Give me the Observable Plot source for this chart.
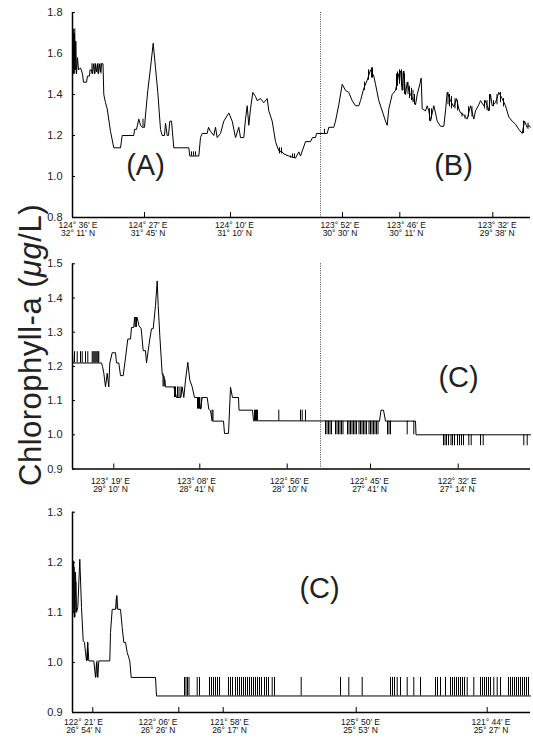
<!DOCTYPE html>
<html><head><meta charset="utf-8">
<script src="https://cdn.jsdelivr.net/npm/d3@7"></script>
<script src="https://cdn.jsdelivr.net/npm/@observablehq/plot@0.6"></script>
<style>
body{margin:0;background:#fff;}
#root{position:relative;width:533px;height:742px;overflow:hidden;background:#fff;}
#root svg{position:absolute;left:0;}
</style></head><body><div id="root"></div>
<script>
// ---------- Panel A/B (top) ----------
const lineAB = [[0,1.48],[0.7,1.72],[1.3,1.50],[2,1.70],[2.7,1.52],[3.3,1.66],[4,1.50],[5,1.58],[6,1.52],[8,1.53],[10,1.50],[11,1.46],[14,1.46],[15,1.49],[17,1.49],[17.5,1.52],[19,1.52],[20,1.50],[21,1.55],[22,1.50],[23,1.55],[24,1.51],[25,1.55],[26,1.50],[27,1.55],[28,1.51],[29,1.55],[30.5,1.55],[31.3,1.40],[33,1.36],[34.7,1.33],[38,1.22],[41.3,1.14],[48,1.14],[49.7,1.20],[61.3,1.20],[62,1.23],[64,1.23],[66.3,1.28],[68,1.25],[69.7,1.24],[72,1.24],[73,1.30],[75.3,1.42],[78,1.53],[80.7,1.65],[83,1.53],[85.3,1.41],[88,1.23],[89.7,1.20],[92,1.20],[93,1.26],[94.7,1.20],[96,1.20],[97.3,1.27],[99,1.27],[101.3,1.14],[116.3,1.14],[117.3,1.10],[126.3,1.10],[128,1.19],[129.7,1.21],[134.7,1.21],[136,1.24],[138,1.22],[141.3,1.20],[143,1.24],[144.7,1.19],[148,1.21],[151.3,1.27],[156.3,1.31],[159.7,1.27],[163,1.19],[166.3,1.24],[168,1.19],[171.3,1.19],[173,1.28],[174.7,1.345],[176.3,1.25],[178,1.33],[180.3,1.41],[183,1.39],[184.7,1.37],[188,1.38],[191.3,1.36],[194.7,1.38],[196.3,1.32],[199.7,1.27],[203,1.17],[206.3,1.125],[209.7,1.12],[211.3,1.11],[216.3,1.10],[223,1.09],[226.3,1.12],[228,1.10],[233,1.17],[238,1.17],[240,1.19],[243,1.19],[244,1.21],[254.7,1.21],[256.3,1.24],[261.3,1.24],[263,1.27],[266.3,1.35],[269.7,1.45],[273,1.42],[276.3,1.41],[279.7,1.37],[283,1.345],[286.3,1.345],[288,1.37],[291.3,1.43],[294.7,1.47],[298,1.52],[301.3,1.49],[303,1.45],[306.3,1.37],[309.7,1.32],[313,1.27],[314.7,1.25],[316.3,1.33],[319.7,1.40],[323,1.42],[326.3,1.50],[328,1.515],[329.7,1.42],[331.3,1.515],[333,1.40],[334.7,1.46],[336.3,1.42],[338,1.40],[341.3,1.37],[343,1.35],[344.7,1.40],[347.3,1.45],[348.7,1.48],[349.7,1.33],[353,1.32],[354.7,1.345],[356.3,1.32],[358,1.27],[361.3,1.345],[363,1.31],[364.7,1.27],[368,1.245],[371.3,1.245],[373,1.32],[374.7,1.41],[378,1.37],[381.3,1.34],[384,1.38],[386.3,1.33],[388,1.31],[391.3,1.30],[394.7,1.28],[398,1.345],[401.3,1.28],[403,1.32],[406.3,1.35],[408,1.37],[411.3,1.345],[413,1.37],[416.3,1.32],[418,1.40],[419.7,1.345],[423,1.36],[426.3,1.41],[429.7,1.38],[433,1.345],[436.3,1.29],[439.7,1.27],[443,1.255],[446.3,1.23],[449.7,1.21],[452,1.27],[454.7,1.24],[456.3,1.25],[458,1.24]];
const spikesAB = [[1,1.50,1.70],[1.7,1.52,1.66],[2.3,1.50,1.72],[19.5,1.50,1.55],[22.5,1.50,1.55],[25.5,1.50,1.55],[28.5,1.50,1.55],[70.5,1.24,1.28],[119,1.10,1.12],[121,1.10,1.12],[123,1.10,1.12],[207,1.11,1.14],[209,1.11,1.14],[218,1.09,1.10],[220,1.09,1.11],[222,1.09,1.11],[252,1.21,1.23],[292,1.42,1.46],[296,1.47,1.52],[299,1.48,1.53],[300,1.48,1.53],[324,1.42,1.50],[325,1.44,1.51],[327,1.45,1.52],[329,1.44,1.52],[330.5,1.42,1.51],[332,1.40,1.50],[335.5,1.40,1.46],[337,1.38,1.44],[339,1.37,1.43],[340.5,1.36,1.42],[342,1.35,1.40],[357,1.27,1.33],[359,1.28,1.33],[375.5,1.35,1.41],[377,1.34,1.40],[379,1.33,1.39],[382.5,1.33,1.38],[385,1.32,1.37],[389.5,1.29,1.31],[392.5,1.28,1.30],[396,1.29,1.34],[399.5,1.29,1.34],[412,1.33,1.37],[414.5,1.32,1.37],[417,1.32,1.40],[421,1.34,1.37],[424.5,1.35,1.40],[428,1.36,1.41],[431,1.34,1.38],[451,1.21,1.27],[455.5,1.23,1.26]];
const yTicksAB = [0.8,1.0,1.2,1.4,1.6,1.8];
const tickPosAB = [72,158,270,327.3,420.3];
const labelPosAB = [5.5,75.5,162,267.5,333.8,424.7];
const labelsAB = ["124° 36′ E\n32° 11′ N","124° 27′ E\n31° 45′ N","124° 10′ E\n31° 10′ N","123° 52′ E\n30° 30′ N","123° 46′ E\n30° 11′ N","123° 32′ E\n29° 38′ N"];
const tagsAB = [{x:73,y:1.052,t:"(A)"},{x:381,y:1.052,t:"(B)"}];

// ---------- Panel C (middle) ----------
const lineC1 = [[0,1.24],[0.5,1.21],[29,1.21],[30,1.20],[31.3,1.18],[33,1.14],[34.7,1.18],[36.3,1.14],[37.3,1.21],[39.7,1.24],[43,1.24],[44,1.21],[46.3,1.21],[48,1.173],[50.7,1.173],[53,1.225],[55.3,1.28],[58,1.28],[59,1.314],[61.3,1.314],[62,1.343],[64.7,1.343],[66.3,1.32],[68.7,1.31],[70.7,1.246],[73,1.246],[74,1.21],[75.7,1.246],[77.3,1.28],[79,1.31],[80.7,1.31],[83,1.378],[84.7,1.45],[85.7,1.378],[87.3,1.29],[89.7,1.178],[91.3,1.17],[93,1.14],[101.3,1.14],[104,1.109],[108,1.109],[109.7,1.14],[111.3,1.109],[113,1.16],[115.3,1.212],[117.3,1.16],[119.7,1.14],[122,1.109],[126.3,1.109],[128,1.075],[129.7,1.109],[134.7,1.109],[136.3,1.075],[138,1.07],[139.7,1.04],[151,1.04],[152,1.004],[156,1.004],[158,1.139],[160,1.109],[166,1.109],[166.5,1.072],[180,1.072],[181,1.041],[307,1.04],[308.5,1.072],[311,1.072],[313,1.04],[343,1.04],[343.5,1.00],[458,1.00]];
const spikesC1 = [[2,1.21,1.243],[4.7,1.21,1.243],[8,1.21,1.243],[9.7,1.21,1.243],[13,1.21,1.243],[15.3,1.21,1.243],[19.7,1.21,1.243],[20.7,1.21,1.243],[21.7,1.21,1.243],[22.7,1.21,1.243],[23.7,1.21,1.243],[24.7,1.21,1.243],[25.7,1.21,1.243],[26.3,1.21,1.243],[62.5,1.314,1.343],[63.3,1.314,1.343],[64,1.314,1.343],[90.5,1.14,1.178],[91.5,1.14,1.17],[92.5,1.14,1.16],[102,1.109,1.14],[103,1.109,1.14],[105,1.109,1.14],[106.5,1.109,1.14],[108.5,1.109,1.14],[125,1.075,1.109],[126,1.075,1.109],[127,1.075,1.109],[128.7,1.075,1.109],[139.5,1.04,1.072],[140.5,1.04,1.072],[182,1.041,1.072],[183,1.041,1.072],[184,1.041,1.072],[185,1.041,1.072],[206.3,1.04,1.072],[228,1.04,1.072],[229.7,1.04,1.072],[233,1.04,1.072],[253,1.0,1.04],[254.5,1.0,1.04],[256,1.0,1.04],[257.5,1.0,1.04],[259,1.0,1.04],[263,1.0,1.04],[264.5,1.0,1.04],[266,1.0,1.04],[267.5,1.0,1.04],[269,1.0,1.04],[270.5,1.0,1.04],[275,1.0,1.04],[276.5,1.0,1.04],[278,1.0,1.04],[279.5,1.0,1.04],[281,1.0,1.04],[282.5,1.0,1.04],[284,1.0,1.04],[286.5,1.0,1.04],[288,1.0,1.04],[289.5,1.0,1.04],[291,1.0,1.04],[292.5,1.0,1.04],[294,1.0,1.04],[296.5,1.0,1.04],[298,1.0,1.04],[299.5,1.0,1.04],[301,1.0,1.04],[302.5,1.0,1.04],[304,1.0,1.04],[305.5,1.0,1.04],[315,1.0,1.04],[316.5,1.0,1.04],[318,1.0,1.04],[334.7,1.0,1.04],[341.3,1.0,1.04],[371,0.968,1.0],[372.5,0.968,1.0],[374,0.968,1.0],[376,0.968,1.0],[378.5,0.968,1.0],[380,0.968,1.0],[382,0.968,1.0],[385,0.968,1.0],[387,0.968,1.0],[389,0.968,1.0],[391,0.968,1.0],[396.3,0.968,1.0],[398.7,0.968,1.0],[408,0.968,1.0],[410.7,0.968,1.0],[451.3,0.968,1.0],[454.7,0.968,1.0]];
const yTicksC1 = [0.9,1.0,1.1,1.2,1.3,1.4,1.5];
const tickPosC1 = [41.3,127.3,214.7,298,385.7];
const labelPosC1 = [38,124,217,297,384.7];
const labelsC1 = ["123° 19′ E\n29° 10′ N","123° 08′ E\n28° 41′ N","122° 56′ E\n28° 10′ N","122° 45′ E\n27° 41′ N","122° 32′ E\n27° 14′ N"];
const tagsC1 = [{x:386,y:1.167,t:"(C)"}];

// ---------- Panel C (bottom) ----------
const lineC2 = [[0,1.10],[0.7,1.203],[2,1.09],[3,1.18],[4,1.10],[5.3,1.11],[7.3,1.206],[9,1.11],[10.7,1.043],[12,1.04],[13,1.02],[14,1.003],[15.3,1.04],[16.3,1.003],[21.3,1.003],[23,0.97],[24,1.00],[25.3,0.97],[26.3,1.003],[37.3,1.003],[38,1.06],[39.7,1.106],[43,1.106],[44,1.133],[45.3,1.106],[48,1.106],[49.7,1.07],[51.3,1.04],[53,1.04],[54.7,1.02],[57.3,1.003],[58.7,0.97],[83,0.97],[84,0.933],[458,0.933]];
const spikeTopsC2 = [112,113.5,115,116.5,124.7,127,137,139,141,143,145,147,156,158,160,163,165,167,169,171,173,175,177,179,181,183,185,187,189,192,194,196,199.7,202,228.7,268,276.3,289.7,318,320,322,324.7,328,334.7,341.3,348,363,365,368,373,378,380,382,384,386,388,390,392,394.7,401.3,408,410,412,414,416,418,421.3,424.7,428,436,438,440,442,444,446,448,450,452,454,456];
const spikesC2 = [[1.3,1.10,1.20],[1.7,1.09,1.19],[2.5,1.09,1.18],[3.5,1.10,1.16],[15,1.003,1.04],[24.5,0.97,1.003],[44.5,1.106,1.133]].concat(spikeTopsC2.map(x => [x,0.933,0.97]));
const yTicksC2 = [0.9,1.0,1.1,1.2,1.3];
const tickPosC2 = [20.3,106.3,150.7,283.7,414.7];
const labelPosC2 = [11,85.5,157,288,418.5];
const labelsC2 = ["122° 21′ E\n26° 54′ N","122° 06′ E\n26° 26′ N","121° 58′ E\n26° 17′ N","125° 50′ E\n25° 53′ N","121° 44′ E\n25° 27′ N"];
const tagsC2 = [{x:247,y:1.148,t:"(C)"}];

const yTitle = "Chlorophyll-a (";
const yUnit = "μg";
const yUnitRest = "/L)";

const FONT = "'Liberation Sans', Arial, Helvetica, sans-serif";
const panels = [
  {top:0, height:245, mt:12, mb:28, dom:[0.8,1.8], yt:yTicksAB, line:lineAB, spikes:spikesAB, tp:tickPosAB, lp:labelPosAB, lb:labelsAB, ldy:4, dotted:true, tags:tagsAB},
  {top:248, height:247, mt:15.3, mb:26.5, dom:[0.9,1.5], yt:yTicksC1, line:lineC1, spikes:spikesC1, tp:tickPosC1, lp:labelPosC1, lb:labelsC1, ldy:8.5, dotted:true, tags:tagsC1},
  {top:498, height:244, mt:13.7, mb:30, dom:[0.9,1.3], yt:yTicksC2, line:lineC2, spikes:spikesC2, tp:tickPosC2, lp:labelPosC2, lb:labelsC2, ldy:6, dotted:false, tags:tagsC2}
];
const root = document.getElementById("root");
for (const p of panels) {
  const pxPerY = (p.height - p.mt - p.mb) / (p.dom[1] - p.dom[0]);
  const marks = [
    Plot.axisY(p.yt, {tickSize: 0, tickPadding: 10, tickFormat: d3.format(".1f"), fontSize: 11, fill: "#222", label: null}),
    Plot.ruleY(p.yt, {x1: 0, x2: 3, stroke: "#000", strokeWidth: 1}),
    Plot.ruleX(p.tp, {x: d => d, y1: p.dom[0], y2: p.dom[0] + 5 / pxPerY, stroke: "#000", strokeWidth: 1}),
    Plot.ruleX([0], {y1: p.dom[0], y2: p.dom[1], stroke: "#000", strokeWidth: 1.5}),
    Plot.ruleY([p.dom[0]], {stroke: "#000", strokeWidth: 1.5}),
    Plot.ruleX(p.spikes, {x: d => d[0], y1: d => d[1], y2: d => d[2], stroke: "#000", strokeWidth: 1}),
    Plot.line(p.line, {x: d => d[0], y: d => d[1], stroke: "#000", strokeWidth: 1}),
    Plot.text(p.lp.map((x, i) => ({x, label: p.lb[i]})), {x: "x", text: "label", frameAnchor: "bottom", lineAnchor: "top", dy: p.ldy, fontSize: 8.5, lineHeight: 1.0, fill: "#111"}),
    Plot.text(p.tags, {x: "x", y: "y", text: "t", fontSize: 29, fill: "#222"})
  ];
  if (p.dotted) marks.push(Plot.ruleX([248], {stroke: "#333", strokeWidth: 0.9, strokeDasharray: "1,1.3"}));
  const svg = Plot.plot({
    width: 533, height: p.height,
    marginLeft: 72, marginRight: 3, marginTop: p.mt, marginBottom: p.mb,
    x: {domain: [0, 458], axis: null},
    y: {domain: p.dom},
    style: {fontFamily: FONT, fontSize: "11px", background: "transparent", overflow: "visible"},
    marks
  });
  svg.style.top = p.top + "px";
  root.appendChild(svg);
}
// rotated y title
const ns = "http://www.w3.org/2000/svg";
const tsvg = document.createElementNS(ns, "svg");
tsvg.setAttribute("width", 60); tsvg.setAttribute("height", 742);
tsvg.style.top = "0px";
const t = document.createElementNS(ns, "text");
t.setAttribute("transform", "translate(41,345) rotate(-90)");
t.setAttribute("text-anchor", "middle");
t.setAttribute("font-family", FONT);
t.setAttribute("font-size", 31);
t.setAttribute("letter-spacing", 0.5);
t.setAttribute("fill", "#222");
t.appendChild(document.createTextNode(yTitle));
const ts = document.createElementNS(ns, "tspan");
ts.setAttribute("font-style", "italic");
ts.textContent = yUnit;
t.appendChild(ts);
t.appendChild(document.createTextNode(yUnitRest));
tsvg.appendChild(t);
root.appendChild(tsvg);
</script></body></html>
